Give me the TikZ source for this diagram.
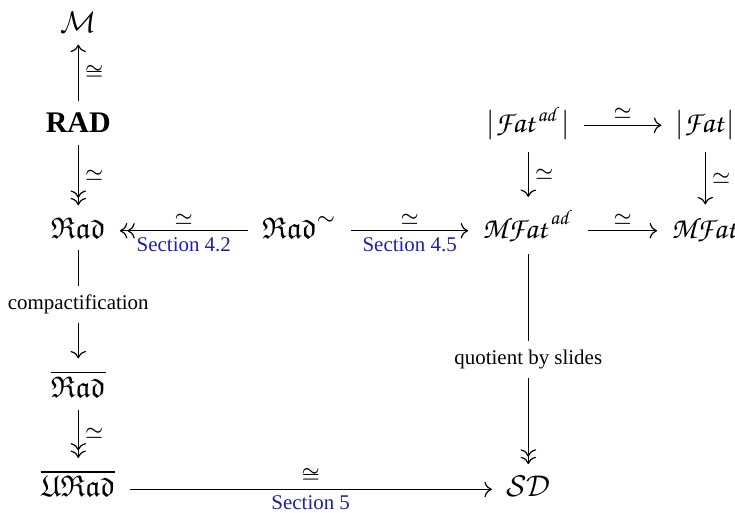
\documentclass[tikz,border=0pt]{standalone}
\usepackage{amsmath,amssymb}
\usepackage{fontspec}
\setmainfont{Liberation Serif}
\usepackage{tikz}
\usetikzlibrary{
    arrows.meta,
    cd
}
\DeclareMathAlphabet{\mathpzc}{OT1}{pzc}{m}{it}
\definecolor{sectblue}{RGB}{30,30,175}

\begin{document}
\begin{tikzpicture}[
        >={Computer Modern Rightarrow},
        obj/.style={shape=asymmetrical rectangle, anchor=base, inner xsep=1ex, inner ysep=0.85ex},
        lab/.style={font=\scriptsize, inner sep=2pt},
        sect/.style={lab, text=sectblue},
        desc/.style={lab, fill=white, inner sep=3pt}
    ]
        \useasboundingbox (0,0) rectangle (8.64,-6.02);

        \node[obj] (m) at (0.92,-0.38) {$\mathcal{M}$};
        \node[obj] (radbf) at (0.92,-1.56) {\textbf{RAD}};
        \node[obj] (rad) at (0.92,-2.80) {$\mathfrak{Rad}$};
        \node[obj] (radc) at (0.92,-4.67) {$\overline{\mathfrak{Rad}}$};
        \node[obj] (urad) at (0.92,-5.84) {$\overline{\mathfrak{URad}}$};
        \node[obj] (radt) at (3.52,-2.80) {$\mathfrak{Rad}^{\sim}$};
        \node[obj] (fatad) at (6.21,-1.56) {$|\mathpzc{Fat}^{\mathpzc{ad}}|$};
        \node[obj] (fat) at (8.29,-1.56) {$|\mathpzc{Fat}|$};
        \node[obj] (mfatad) at (6.21,-2.80) {$\mathpzc{MFat}^{\mathpzc{ad}}$};
        \node[obj] (mfat) at (8.29,-2.80) {$\mathpzc{MFat}$};
        \node[obj] (sd) at (6.21,-5.84) {$\mathcal{SD}$};

        % left column
        \draw[->] (radbf) -- node[lab, right] {$\cong$} (m);
        \draw[->>] (radbf) -- node[lab, right] {$\simeq$} (rad);
        \draw[->] (rad) -- node[desc] {compactification} (radc);
        \draw[->>] (radc) -- node[lab, right] {$\simeq$} (urad);

        % middle row
        \draw[->>] (radt) -- node[lab, above] {$\simeq$} node[sect, below] {Section 4.2} (rad);
        \draw[->] (radt) -- node[lab, above] {$\simeq$} node[sect, below] {Section 4.5} (mfatad);
        \draw[->] (mfatad) -- node[lab, above] {$\simeq$} (mfat);

        % square on the right
        \draw[->] (fatad) -- node[lab, above] {$\simeq$} (fat);
        \draw[->] (fatad) -- node[lab, right] {$\simeq$} (mfatad);
        \draw[->] (fat) -- node[lab, right] {$\simeq$} (mfat);

        % bottom
        \draw[->>] (mfatad) -- node[desc] {quotient by slides} (sd);
        \draw[->] (urad) -- node[lab, above] {$\cong$} node[sect, below] {Section 5} (sd);
    \end{tikzpicture}
\end{document}
